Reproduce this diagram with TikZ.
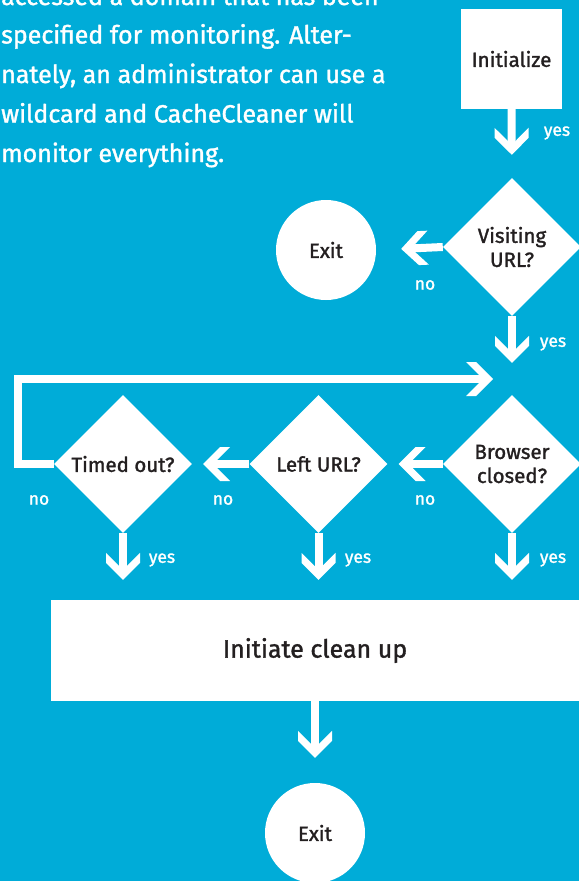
\documentclass[tikz,border=0pt]{standalone}
\usepackage{fontspec}
\setmainfont{Fira Sans}[FakeBold=1.4]
\usetikzlibrary{shapes.geometric,arrows.meta}
\definecolor{bgblue}{HTML}{00ACD8}
\definecolor{ink}{HTML}{231F20}

\pgfdeclarearrow{
  name=Chev,
  setup code={
    \pgfarrowssettipend{0pt}
    \pgfarrowssetbackend{-27pt}
    \pgfarrowssetlineend{-6pt}
    \pgfarrowshullpoint{0pt}{0pt}
    \pgfarrowsupperhullpoint{-27pt}{17pt}
  },
  drawing code={
    \pgfpathmoveto{\pgfqpoint{0pt}{0pt}}
    \pgfpathlineto{\pgfqpoint{-17pt}{17pt}}
    \pgfpathlineto{\pgfqpoint{-27pt}{17pt}}
    \pgfpathlineto{\pgfqpoint{-10pt}{0pt}}
    \pgfpathlineto{\pgfqpoint{-27pt}{-17pt}}
    \pgfpathlineto{\pgfqpoint{-17pt}{-17pt}}
    \pgfpathclose
    \pgfusepathqfill
  }
}

\tikzset{
  body/.style={anchor=base west, inner sep=0pt, text=white, font=\fontsize{25}{30}\selectfont},
  boxnode/.style={rectangle, fill=white, text=ink, inner sep=0pt, font=\fontsize{20.5}{24}\selectfont},
  decision/.style={diamond, aspect=1, fill=white, text=ink, inner sep=0pt, minimum width=138pt, minimum height=138pt, align=center, font=\fontsize{20.5}{24}\selectfont},
  endnode/.style={circle, fill=white, text=ink, inner sep=0pt, minimum size=100pt, font=\fontsize{20.5}{24}\selectfont},
  conn/.style={white, line width=8pt, -Chev},
  lbl/.style={text=white, inner sep=0pt, font=\fontsize{17.5}{20}\selectfont}
}

\begin{document}
\begin{tikzpicture}[x=1pt,y=-1pt]
\clip (0,0) rectangle (579,881);
\fill[bgblue] (0,0) rectangle (579,881);

% paragraph text
\node[body] (t1) at (1,5) {accessed a domain that has been};
\node[body] (t2) at (1,43.5) {specified for monitoring. Alter-};
\node[body] (t3) at (1,83) {nately, an administrator can use a};
\node[body] (t4) at (1,122.5) {wildcard and CacheCleaner will};
\node[body] (t5) at (1,162) {monitor everything.};

% nodes
\node[boxnode, minimum width=101pt, minimum height=100pt] (init) at (511.5,59) {Initialize};
\node[decision] (visit) at (512,247) {Visiting\\URL?};
\node[endnode] (exit1) at (326,250) {Exit};
\node[decision] (browser) at (512,464) {Browser\\closed?};
\node[decision] (lefturl) at (318.5,464) {Left URL?};
\node[decision] (timed) at (123,464) {Timed out?};
\node[boxnode, minimum width=528pt, minimum height=101pt, font=\fontsize{25}{30}\selectfont] (cleanup) at (315,650.5) {Initiate clean up};
\node[endnode] (exit2) at (315,833) {Exit};

\coordinate (loopend) at (493,379);

% connectors
\draw[conn, shorten >=23pt] (init.south) -- (visit.north);
\draw[conn, shorten >=25pt] (visit.west) -- (exit1.east);
\draw[conn, shorten >=32pt] (visit.south) -- (browser.north);
\draw[conn] (timed.west) -- (18,464) -- (18,379) -- (loopend);
\draw[conn, shorten >=11pt] (browser.west) -- (lefturl.east);
\draw[conn, shorten >=11pt] (lefturl.west) -- (timed.east);
\draw[conn, shorten >=20pt] (timed.south) -- (timed.south |- cleanup.north);
\draw[conn, shorten >=20pt] (lefturl.south) -- (lefturl.south |- cleanup.north);
\draw[conn, shorten >=20pt] (browser.south) -- (browser.south |- cleanup.north);
\draw[conn, shorten >=25pt] (cleanup.south) -- (exit2.north);

% labels
\node[lbl] (y1) at (557,133) {yes};
\node[lbl] (n1) at (425,285) {no};
\node[lbl] (y2) at (553,344) {yes};
\node[lbl] (n2) at (39,500) {no};
\node[lbl] (n3) at (223,500) {no};
\node[lbl] (n4) at (425,500) {no};
\node[lbl] (y3) at (162,560) {yes};
\node[lbl] (y4) at (358,560) {yes};
\node[lbl] (y5) at (553,560) {yes};
\end{tikzpicture}
\end{document}
